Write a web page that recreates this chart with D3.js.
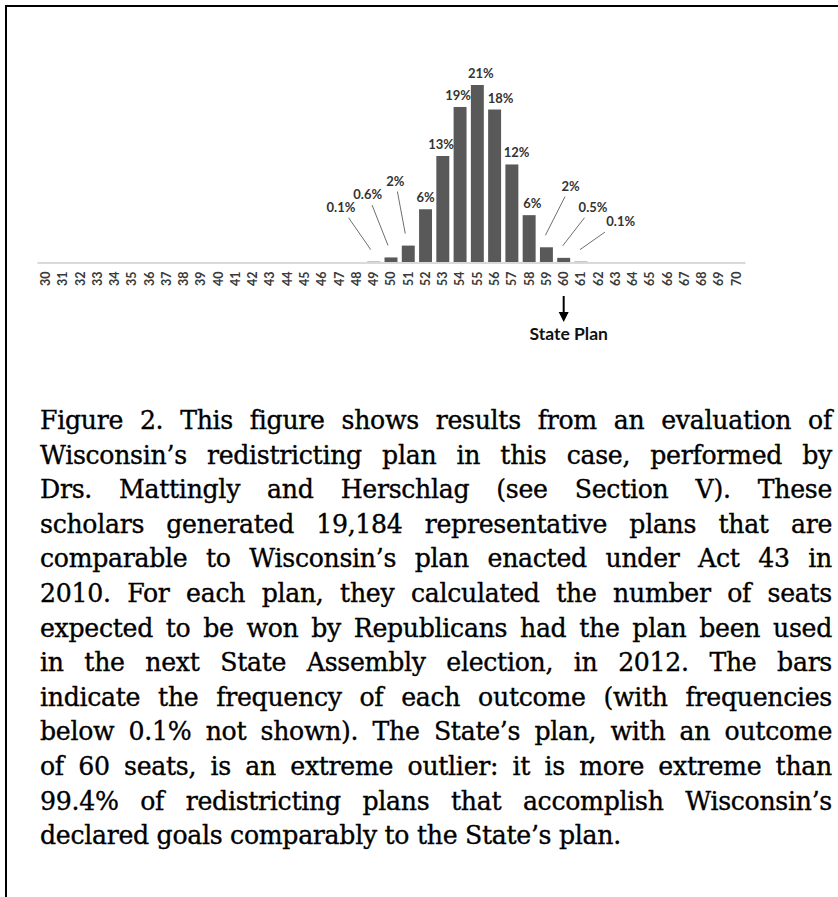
<!DOCTYPE html>
<html>
<head>
<meta charset="utf-8">
<title>Figure 2 - Wisconsin redistricting plans</title>
<script src="https://d3js.org/d3.v7.min.js"></script>
<style>
body { margin: 0; background: #fff; }
#chart { position: absolute; left: 0; top: 0; }
#caption {
  position: absolute; left: 40px; top: 404px; width: 792px;
  font-family: "DejaVu Serif", "Liberation Serif", serif;
  font-size: 25.2px; line-height: 34.6px; color: #000;
  letter-spacing: -0.3px;
  -webkit-text-stroke: 0.35px #000;
}
#caption div { text-align: justify; text-align-last: justify; white-space: nowrap; }
#caption div.last { text-align-last: left; }
</style>
</head>
<body>
<svg id="chart" width="838" height="897"></svg>
<div id="caption"></div>

<script>
// every seat count on the axis
var seats = [30, 31, 32, 33, 34, 35, 36, 37, 38, 39, 40, 41, 42, 43, 44, 45, 46, 47, 48, 49, 50,
             51, 52, 53, 54, 55, 56, 57, 58, 59, 60, 61, 62, 63, 64, 65, 66, 67, 68, 69, 70];
// outcomes with a frequency of at least 0.1%
var barSeats = [49, 50, 51, 52, 53, 54, 55, 56, 57, 58, 59, 60, 61];
var barShare = [0.1, 0.6, 2.0, 6.3, 12.6, 18.4, 21.0, 18.1, 11.6, 5.6, 1.8, 0.55, 0.1];
var barLabels = ["0.1%", "0.6%", "2%", "6%", "13%", "19%", "21%", "18%", "12%", "6%", "2%", "0.5%", "0.1%"];
var statePlanSeats = 60;

var captionLines = [
  "Figure 2. This figure shows results from an evaluation of",
  "Wisconsin\u2019s redistricting plan in this case, performed by",
  "Drs. Mattingly and Herschlag (see Section V). These",
  "scholars generated 19,184 representative plans that are",
  "comparable to Wisconsin\u2019s plan enacted under Act 43 in",
  "2010. For each plan, they calculated the number of seats",
  "expected to be won by Republicans had the plan been used",
  "in the next State Assembly election, in 2012. The bars",
  "indicate the frequency of each outcome (with frequencies",
  "below 0.1% not shown). The State\u2019s plan, with an outcome",
  "of 60 seats, is an extreme outlier: it is more extreme than",
  "99.4% of redistricting plans that accomplish Wisconsin\u2019s",
  "declared goals comparably to the State\u2019s plan."
];

// where the small-bar labels sit (seat offset, height in %); the others go right above their bar
var callouts = {
  49: { dx: -1.9, y: 6.6 },
  50: { dx: -1.35, y: 8.1 },
  51: { dx: -0.75, y: 9.7 },
  59: { dx: 1.4, y: 9.1 },
  60: { dx: 1.7, y: 6.6 },
  61: { dx: 2.3, y: 4.9 }
};
// little sideways nudges of the labels above the tall bars, in seats
var nudge = { 52: 0, 53: -0.1, 54: -0.12, 55: 0.2, 56: 0.35, 57: 0.27, 58: 0.18 };

var svg = d3.select("#chart");

// frame: top and left rules
svg.append("line").attr("x1", 5).attr("x2", 838).attr("y1", 6).attr("y2", 6)
  .attr("stroke", "#000").attr("stroke-width", 2);
svg.append("line").attr("x1", 6).attr("x2", 6).attr("y1", 5).attr("y2", 897)
  .attr("stroke", "#000").attr("stroke-width", 2);

var baseY = 262.5;
var x = d3.scaleBand().domain(seats).range([37, 745]).paddingInner(0.25).paddingOuter(0.125);
var y = d3.scaleLinear().domain([0, 21]).range([baseY, 85]);

function cx(s) { return x(s) + x.bandwidth() / 2; }
// centre of a seat position that may fall between bands
var step = x.step();
function seatX(s) { return cx(seats[0]) + (s - seats[0]) * step; }

var bars = barSeats.map(function (s, i) {
  return { seat: s, share: barShare[i], label: barLabels[i] };
});

svg.append("g").selectAll("rect")
  .data(bars)
  .join("rect")
  .attr("x", function (d) { return x(d.seat); })
  .attr("width", x.bandwidth())
  .attr("y", function (d) { return y(d.share); })
  .attr("height", function (d) { return baseY - y(d.share); })
  .attr("fill", "#595959");

// x axis
var axis = svg.append("g")
  .attr("transform", "translate(0," + baseY + ")")
  .call(d3.axisBottom(x).tickSize(0).tickSizeOuter(0));
axis.select(".domain").attr("stroke", "#d9d9d9").attr("stroke-width", 2);
axis.selectAll(".tick text")
  .attr("transform", "rotate(-90)")
  .attr("x", -9).attr("y", 0).attr("dy", "0.35em")
  .attr("text-anchor", "end")
  .attr("fill", "#3a3a3a")
  .style("font-family", "Lato, sans-serif")
  .style("font-weight", "bold")
  .style("font-size", "12.5px");

// percentage labels
var lab = svg.append("g")
  .style("font-family", "Lato, sans-serif")
  .style("font-weight", "bold")
  .style("font-size", "13px")
  .attr("fill", "#333");

bars.forEach(function (d) {
  var c = callouts[d.seat];
  if (c) {
    var lx = seatX(d.seat + c.dx), ly = y(c.y);
    lab.append("text").attr("x", lx).attr("y", ly)
      .attr("text-anchor", "middle").attr("dominant-baseline", "central")
      .text(d.label);
    // leader line from below the label towards the bar top
    var ex = cx(d.seat) + (c.dx < 0 ? -3 : -1), ey = y(d.share) - 12;
    var t = 11 / (ey - ly);
    svg.append("line")
      .attr("x1", lx + (ex - lx) * t).attr("y1", ly + 11)
      .attr("x2", ex).attr("y2", ey)
      .attr("stroke", "#6f6f6f").attr("stroke-width", 1);
  } else {
    lab.append("text").attr("x", seatX(d.seat + (nudge[d.seat] || 0))).attr("y", y(d.share) - 12)
      .attr("text-anchor", "middle").attr("dominant-baseline", "central")
      .text(d.label);
  }
});

// State Plan marker
var px = cx(statePlanSeats);
svg.append("line").attr("x1", px).attr("x2", px).attr("y1", 296).attr("y2", 314)
  .attr("stroke", "#000").attr("stroke-width", 2);
svg.append("path")
  .attr("d", d3.line()([[px - 5, 312], [px + 5, 312], [px, 322]]) + "Z")
  .attr("fill", "#000");
svg.append("text").attr("x", px + 5).attr("y", 333)
  .attr("text-anchor", "middle").attr("dominant-baseline", "central")
  .style("font-family", "Lato, sans-serif").style("font-weight", "bold").style("font-size", "17.5px")
  .attr("fill", "#111")
  .text("State Plan");

// caption, one justified line per row as in the original
d3.select("#caption").selectAll("div")
  .data(captionLines)
  .join("div")
  .classed("last", function (d, i) { return i === captionLines.length - 1; })
  .text(function (d) { return d; });
</script>
</body>
</html>
